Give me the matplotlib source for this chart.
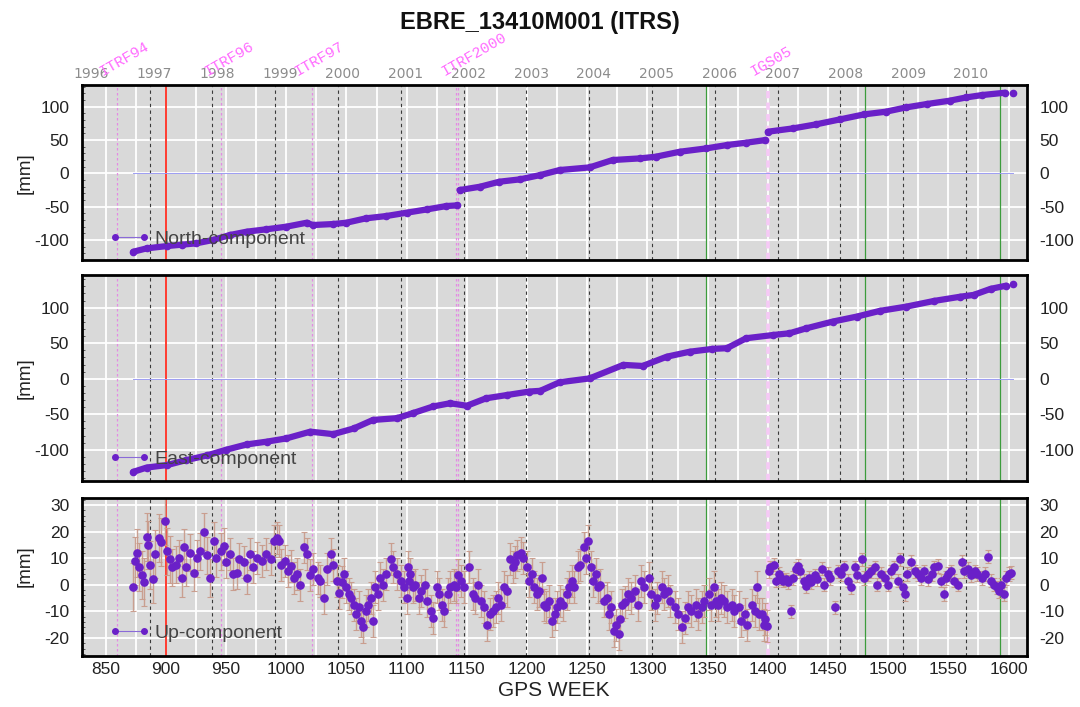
import numpy as np
import matplotlib
matplotlib.use('Agg')
import matplotlib.pyplot as plt
from matplotlib.lines import Line2D
from matplotlib.ticker import MultipleLocator, FixedLocator
from datetime import date

plt.rcParams['font.family'] = ['Liberation Sans', 'DejaVu Sans']
plt.rcParams['axes.unicode_minus'] = False

# ---------------- data ----------------
title = "EBRE_13410M001 (ITRS)"

north_wk = [873, 884, 901, 913, 925, 939, 953, 967, 983, 1000,
            1017, 1022, 1039, 1050, 1066, 1083, 1100, 1117, 1133, 1142,
            1144, 1161, 1177, 1194, 1211, 1227, 1252, 1271, 1294, 1307,
            1327, 1349, 1366, 1382, 1398, 1400, 1421, 1440, 1460, 1480,
            1498, 1515, 1532, 1551, 1565, 1578, 1597, 1604]
north_mm = [-117.5, -112.5, -109, -107, -105, -100, -92.5, -87.5, -84, -80,
            -74, -77.5, -76, -74, -67.5, -64, -59, -54, -49, -48,
            -25, -20, -12.5, -9, -2.5, 5, 9, 20, 22.5, 25,
            32.5, 37.5, 42.5, 46, 50, 62.5, 67.5, 73.5, 81, 88.5,
            92.5, 99, 104, 109, 114, 117.5, 121, 121]
north_breaks = [1143, 1399, 1600]

east_wk = [873, 884, 901, 917, 934, 950, 967, 984, 1000, 1020,
           1039, 1056, 1072, 1092, 1105, 1122, 1136, 1150, 1166, 1183,
           1202, 1211, 1227, 1252, 1280, 1296, 1316, 1335, 1354, 1366,
           1382, 1404, 1418, 1432, 1454, 1474, 1493, 1515, 1538, 1560,
           1571, 1585, 1598, 1604]
east_mm = [-131, -125, -121.5, -114.5, -108, -100, -92.5, -88.5, -84, -74.5,
           -78, -70, -58, -55.5, -48.5, -39, -34.5, -38, -27.5, -23,
           -18, -17, -5, 0.5, 19.5, 18, 31, 38, 42, 43,
           57, 61.5, 64, 71, 80.5, 87.5, 95.5, 101.5, 109.5, 115.5,
           118, 126.5, 131, 133]
east_breaks = [1600]

up_wk = [873, 874, 876, 878, 880, 882, 884, 885, 887, 889,
         891, 894, 896, 899, 901, 903, 905, 908, 911, 913,
         915, 917, 920, 923, 926, 928, 932, 934, 937, 940,
         942, 946, 948, 950, 953, 956, 959, 961, 965, 967,
         970, 972, 976, 980, 983, 987, 990, 992, 994, 996,
         999, 1001, 1004, 1006, 1009, 1011, 1015, 1017, 1020, 1022,
         1026, 1028, 1031, 1034, 1037, 1039, 1042, 1044, 1046, 1048,
         1050, 1052, 1054, 1056, 1058, 1060, 1062, 1064, 1066, 1068,
         1070, 1072, 1074, 1076, 1078, 1080, 1083, 1087, 1089, 1092,
         1095, 1098, 1100, 1101, 1102, 1103, 1105, 1107, 1110, 1112,
         1115, 1117, 1120, 1122, 1125, 1127, 1129, 1131, 1134, 1136,
         1139, 1141, 1143, 1145, 1148, 1152, 1155, 1157, 1159, 1162,
         1164, 1167, 1169, 1172, 1174, 1176, 1178, 1181, 1183, 1186,
         1188, 1190, 1192, 1195, 1197, 1200, 1202, 1204, 1206, 1208,
         1210, 1212, 1214, 1216, 1218, 1221, 1223, 1225, 1227, 1230,
         1233, 1235, 1237, 1239, 1242, 1244, 1247, 1249, 1251, 1253,
         1255, 1257, 1259, 1261, 1264, 1266, 1268, 1270, 1272, 1274,
         1276, 1277, 1279, 1281, 1284, 1286, 1290, 1292, 1295, 1297,
         1301, 1303, 1306, 1308, 1312, 1314, 1317, 1319, 1323, 1325,
         1329, 1331, 1334, 1336, 1340, 1342, 1345, 1347, 1351, 1353,
         1355, 1357, 1359, 1361, 1364, 1366, 1370, 1372, 1376, 1378,
         1381, 1383, 1387, 1389, 1391, 1393, 1395, 1397, 1398, 1399,
         1401, 1402, 1405, 1407, 1409, 1411, 1413, 1415, 1417, 1419,
         1421, 1423, 1425, 1427, 1430, 1432, 1434, 1436, 1439, 1441,
         1445, 1447, 1450, 1452, 1456, 1458, 1461, 1463, 1467, 1469,
         1472, 1474, 1478, 1480, 1483, 1486, 1489, 1491, 1494, 1497,
         1500, 1502, 1505, 1508, 1510, 1512, 1514, 1516, 1519, 1522,
         1525, 1527, 1530, 1533, 1536, 1538, 1541, 1544, 1546, 1548,
         1550, 1552, 1555, 1558, 1561, 1563, 1566, 1569, 1572, 1574,
         1578, 1580, 1583, 1585, 1588, 1590, 1592, 1594, 1596, 1598,
         1600, 1602]
up_mm = [-1, 9, 12, 6.5, 3.5, 1, 18, 15, 7.5, 2,
         11.5, 17.5, 16, 24, 12.5, 9.5, 6.5, 7.5, 10, 2.5,
         14, 6.5, 12, 4.5, 10, 12.5, 20, 11, 2.5, 16.5,
         10, 12.5, 14.5, 8.5, 11.5, 4, 4.5, 9.5, 8.5, 2.5,
         11.5, 6.5, 10, 9, 11.5, 9.5, 16.5, 17.5, 16.5, 7.5,
         9, 5, 7, 2.5, 4, 0, 14, 11.5, 3.5, 6,
         2.5, 1.5, -5, 6, 11.5, 7.5, 1.5, -3, 1, 4,
         -1, -3.5, -5, -7.5, -11, -8.5, -13.5, -16, -10, -7.5,
         -5, -13.5, -1, -3.5, 2.5, 0, 4, 9.5, 6.5, 4,
         1.5, -1, -5, 6.5, 1.5, 4, -1, 0, -5, -2.5,
         0, -6, -10, -12.5, -1, -3.5, -7.5, -10, -3.5, -1,
         0, -1, 3.5, 1.5, -1, 6.5, -3.5, -5, 0, -6,
         -8.5, -15, -11, -10, -8.5, -5, -7.5, -1, -2.5, 9.5,
         6.5, 8.5, 11, 12, 10, 6.5, 1.5, 4, -1, -3.5,
         -2.5, 2.5, -7.5, -8.5, -6, -13.5, -11, -8.5, -6, -7.5,
         -3.5, -1, 1.5, -1, 6.5, 7.5, 14, 10, 16.5, 6.5,
         1.5, 4, -1, 0, -6, -5, -11, -8.5, -17.5, -15,
         -18.5, -13, -7.5, -6.5, -3.5, -5, -2.5, -7.5, 1.5, -1,
         2.5, -3.5, -7.5, -5, -1, -3.5, -2.5, -6, -8.5, -11,
         -16, -12.5, -8.5, -10, -7.5, -11, -8.5, -6, -3.5, -7.5,
         -1, -6, -7.5, -5, -6, -8.5, -7.5, -10, -8.5, -13.5,
         -11, -15, -7.5, -10, -1, -11, -11, -15, -13, -15.5,
         5, 6.5, 7.5, 1.5, 4, 2.5, 1.5, 2, 1, -10,
         2.5, 6, 7, 5, 1.5, -0.5, 2.5, 1, 3.5, 2,
         6, 0, 4, 2.5, -8.5, 5, 4, 6.5, 1.5, -1,
         6.5, 3.5, 9.5, 2.5, 4, 5, 6.5, 0, 4, 2.5,
         0, 5, 6.5, 1.5, 9.5, -1, -3.5, 4, 8.5, 5,
         4, 2.5, 5, 2, 4, 6.5, 7, 1.5, -3.5, 2.5,
         4, 5, 1.5, 0, 8.5, 5, 6, 3.5, 5, 4,
         2.5, 4, 10.5, 1.5, 0, -1, -2.5, 0, -3.5, 2.5,
         4, 4.5]
# typical error-bar half length (mm), valid from the given week onward
up_err_from = [870, 905, 950, 1050, 1150, 1260, 1400]
up_err_mm = [9, 7, 6, 6, 6, 6, 2.5]

year_list = list(range(1996, 2011))
frame_changes = [("ITRF94", 859), ("ITRF96", 946), ("ITRF97", 1021),
                 ("ITRF2000", 1143), ("IGS05", 1400)]
extra_frame_line = [1141]
red_events = [900]
green_events = [1349, 1481, 1593]

# ---------------- helpers ----------------
def gps_week(y, m, d):
    return (date(y, m, d) - date(1980, 1, 6)).days / 7.0

year_weeks = [gps_week(y, 1, 1) for y in year_list]

PURPLE = '#6a20c8'
BG = '#d9d9d9'

fig = plt.figure(figsize=(10.8, 7.07), dpi=100)
L, W = 0.0756, 0.875
ax_n = fig.add_axes([L, 0.6322, W, 0.2475])
ax_e = fig.add_axes([L, 0.3196, W, 0.2914])
ax_u = fig.add_axes([L, 0.0721, W, 0.2235])


def style(ax, ylim, yticks, yminor, bottom_labels):
    ax.set_facecolor(BG)
    ax.set_xlim(830, 1615)
    ax.set_ylim(*ylim)
    ax.xaxis.set_major_locator(MultipleLocator(50))
    ax.xaxis.set_minor_locator(MultipleLocator(25))
    ax.yaxis.set_major_locator(FixedLocator(yticks))
    ax.yaxis.set_minor_locator(MultipleLocator(yminor))
    ax.set_axisbelow(True)
    ax.grid(True, axis='x', which='both', color='white', lw=1.3)
    ax.grid(True, axis='y', which='major', color='white', lw=1.3)
    for s in ax.spines.values():
        s.set_linewidth(2.0)
        s.set_color('black')
    ax.tick_params(axis='y', which='major', left=True, right=True,
                   labelleft=True, labelright=True, length=0, pad=9,
                   labelsize=12.5, labelcolor='#222222')
    ax.tick_params(axis='y', which='minor', left=True, right=False,
                   direction='in', length=2.5, width=0.6, color='#444444')
    ax.tick_params(axis='x', which='both', length=0, labelbottom=bottom_labels,
                   labelsize=12.5, labelcolor='#222222', pad=4)
    # event lines
    for wk in year_weeks[1:]:
        ax.axvline(wk, color='#3a3a3a', lw=0.8, ls=(0, (3, 3)), zorder=1.5)
    for name, wk in frame_changes:
        if name == 'IGS05':
            ax.axvline(wk, color='#f6c9f6', lw=2.6, ls=(0, (2, 1.2)), zorder=1.6)
        else:
            ax.axvline(wk, color='#e48ae4', lw=0.9, ls=(0, (2, 2)), zorder=1.6)
    for wk in extra_frame_line:
        ax.axvline(wk, color='#e48ae4', lw=0.9, ls=(0, (2, 2)), zorder=1.6)
    for wk in red_events:
        ax.axvline(wk, color='#ff3b30', lw=1.4, zorder=1.7)
    for wk in green_events:
        ax.axvline(wk, color='#3c9c3c', lw=0.9, zorder=1.7)


def add_legend(ax, label, y):
    h = Line2D([], [], color='#8a6ad8', lw=0.8, marker='o', markersize=4,
               markerfacecolor=PURPLE, markeredgecolor=PURPLE)
    ax.legend(handles=[h], labels=[label], loc='center left',
              bbox_to_anchor=(0.029, y), frameon=False, fontsize=14,
              numpoints=2, handlelength=2.1, handletextpad=0.25,
              borderpad=0, borderaxespad=0, labelcolor='#444444')


def plot_series(ax, wk, mm, breaks):
    wk = np.asarray(wk, float)
    mm = np.asarray(mm, float)
    ax.plot([wk.min(), wk.max()], [0, 0], color='#9d9df2', lw=0.7, zorder=2)
    edges = [-np.inf] + list(breaks) + [np.inf]
    for lo, hi in zip(edges[:-1], edges[1:]):
        m = (wk >= lo) & (wk < hi)
        ax.plot(wk[m], mm[m], color=PURPLE, lw=4.5, marker='o', markersize=4.5,
                solid_capstyle='round', solid_joinstyle='round', zorder=3)


style(ax_n, (-130, 132.5), [-100, -50, 0, 50, 100], 10, False)
style(ax_e, (-144, 146), [-100, -50, 0, 50, 100], 10, False)
style(ax_u, (-26.8, 32.6), [-20, -10, 0, 10, 20, 30], 2, True)

plot_series(ax_n, north_wk, north_mm, north_breaks)
plot_series(ax_e, east_wk, east_mm, east_breaks)

uw = np.asarray(up_wk, float)
um = np.asarray(up_mm, float)
idx = np.searchsorted(np.asarray(up_err_from), uw, side='right') - 1
ue = np.asarray(up_err_mm)[np.clip(idx, 0, None)]
ax_u.errorbar(uw, um, yerr=ue, fmt='none', ecolor='#c99c8c', elinewidth=1.0,
              capsize=2, capthick=0.8, alpha=0.95, zorder=2.5)
ax_u.plot(uw, um, 'o', color=PURPLE, markersize=5.2, zorder=3)

add_legend(ax_n, 'North-component', 0.12)
add_legend(ax_e, 'East-component', 0.107)
add_legend(ax_u, 'Up-component', 0.146)

# top year labels
for y, wk in zip(year_list, year_weeks):
    ax_n.annotate(str(y), xy=(wk + 4, 1), xycoords=('data', 'axes fraction'),
                  xytext=(0, 4), textcoords='offset pixels', ha='center',
                  va='bottom', fontsize=10, color='#8c8c8c',
                  family=['DejaVu Sans'], annotation_clip=False)
# reference-frame labels
for name, wk in frame_changes:
    ax_n.annotate(name, xy=(wk, 1), xycoords=('data', 'axes fraction'),
                  xytext=(-14, 9), textcoords='offset pixels', rotation=30,
                  rotation_mode='anchor', ha='left', va='baseline',
                  fontsize=11, color='#ff6cff', family=['Liberation Mono'],
                  annotation_clip=False, zorder=5)

fig.text(0.5, 1 - 22 / 707, title, ha='center', va='center', fontsize=17,
         fontweight='bold', color='#111111')
fig.text(554 / 1080, 1 - 690 / 707, 'GPS WEEK', ha='center', va='center',
         fontsize=15, color='#222222')
for yc in (173, 378, 566):
    fig.text(25 / 1080, 1 - yc / 707, '[mm]', rotation=90, ha='center',
             va='center', fontsize=13.5, color='#222222')

fig.savefig('out.png', dpi=100, facecolor='white')
